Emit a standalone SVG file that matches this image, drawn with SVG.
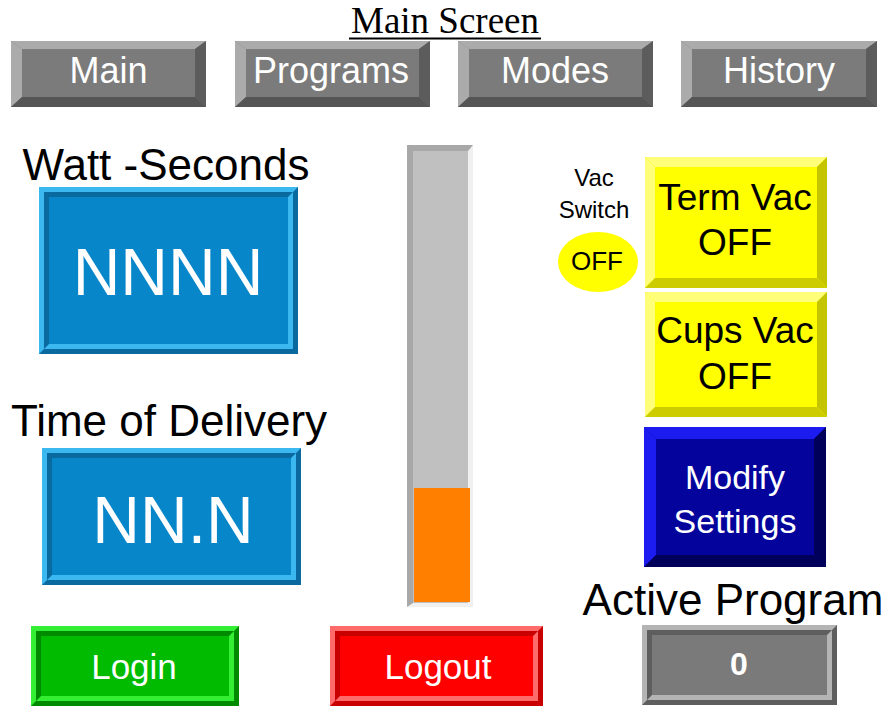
<svg xmlns="http://www.w3.org/2000/svg" width="889" height="706" viewBox="0 0 889 706">
<style>
text{font-family:"Liberation Sans",Arial,sans-serif;text-anchor:middle}
.w{fill:#ffffff}
.k{fill:#000000}
.navf{fill:#7b7b7b}.navl{fill:#ababab}.navd{fill:#5c5c5c}.navb{fill:#555555}
.yf{fill:#ffff00}.yl{fill:#ffff7a}.yd{fill:#c4c400}.yb{fill:#cccc00}
.nf{fill:#04049c}.nl{fill:#1c1cf0}.nd{fill:#00005a}
.bf{fill:#0786c9}.bl{fill:#3cb8f0}.bd{fill:#0a6aa0}
.gf{fill:#00bb00}.gl{fill:#33ee33}.gd{fill:#008a00}
.rf{fill:#ff0000}.rl{fill:#ff6a6a}.rd{fill:#c80000}
.af{fill:#7a7a7a}.al{fill:#b4b4b4}.ad{fill:#5e5e5e}
</style>
<rect width="889" height="706" fill="#ffffff"/>
<g id="title">
<text x="445" y="33" style="font-family:'Liberation Serif','Times New Roman',serif;font-size:37px" class="k">Main Screen</text>
<rect x="349" y="37.5" width="192" height="2" fill="#000"/>
</g>
<g id="nav-main">
<rect x="11" y="41" width="195" height="66" class="navf"/>
<polygon points="11,41 206,41 195,49 22,49" class="navl"/>
<polygon points="11,41 22,49 22,97 11,107" class="navl"/>
<polygon points="206,41 206,107 195,97 195,49" class="navd"/>
<polygon points="11,107 206,107 195,97 22,97" class="navb"/>
<text x="108.5" y="83" class="w" style="font-size:36px">Main</text>
</g>
<g id="nav-programs">
<rect x="235" y="41" width="195" height="66" class="navf"/>
<polygon points="235,41 430,41 419,49 246,49" class="navl"/>
<polygon points="235,41 246,49 246,97 235,107" class="navl"/>
<polygon points="430,41 430,107 419,97 419,49" class="navd"/>
<polygon points="235,107 430,107 419,97 246,97" class="navb"/>
<text x="331" y="83" class="w" style="font-size:36px">Programs</text>
</g>
<g id="nav-modes">
<rect x="458" y="41" width="195" height="66" class="navf"/>
<polygon points="458,41 653,41 642,49 469,49" class="navl"/>
<polygon points="458,41 469,49 469,97 458,107" class="navl"/>
<polygon points="653,41 653,107 642,97 642,49" class="navd"/>
<polygon points="458,107 653,107 642,97 469,97" class="navb"/>
<text x="555" y="83" class="w" style="font-size:36px">Modes</text>
</g>
<g id="nav-history">
<rect x="681" y="41" width="196" height="66" class="navf"/>
<polygon points="681,41 877,41 866,49 692,49" class="navl"/>
<polygon points="681,41 692,49 692,97 681,107" class="navl"/>
<polygon points="877,41 877,107 866,97 866,49" class="navd"/>
<polygon points="681,107 877,107 866,97 692,97" class="navb"/>
<text x="779" y="83" class="w" style="font-size:36px">History</text>
</g>
<g id="watt-seconds">
<text x="166" y="180" class="k" style="font-size:44px">Watt -Seconds</text>
<rect x="39" y="187" width="259" height="167" class="bl"/>
<polygon points="298,187 298,354 39,354 44,349 293,349 293,192" class="bd"/>
<rect x="44" y="192" width="249" height="157" class="bl"/>
<polygon points="44,192 293,192 288,197 49,197 49,344 44,349" class="bd"/>
<rect x="49" y="197" width="239" height="147" class="bf"/>
<text x="168" y="295" class="w" style="font-size:66px">NNNN</text>
</g>
<g id="time-of-delivery">
<text x="169" y="436" class="k" style="font-size:44px">Time of Delivery</text>
<rect x="42" y="448" width="259" height="137" class="bl"/>
<polygon points="301,448 301,585 42,585 47,580 296,580 296,453" class="bd"/>
<rect x="47" y="453" width="249" height="127" class="bl"/>
<polygon points="47,453 296,453 291,458 52,458 52,575 47,580" class="bd"/>
<rect x="52" y="458" width="239" height="117" class="bf"/>
<text x="173" y="543" class="w" style="font-size:66px">NN.N</text>
</g>
<g id="level-bar">
<rect x="407" y="145" width="66" height="462" fill="#f0f0f0"/>
<polygon points="407,145 473,145 468,151 413,151 413,603 407,607" fill="#a8a8a8"/>
<rect x="413" y="151" width="55" height="452" fill="#c0c0c0"/>
<rect x="414" y="488" width="56" height="114" fill="#ff8000"/>
</g>
<g id="vac-switch">
<text x="594" y="186" class="k" style="font-size:24px">Vac</text>
<text x="594" y="218" class="k" style="font-size:24px">Switch</text>
<ellipse cx="598" cy="262" rx="40" ry="30" fill="#ffff00"/>
<text x="597" y="270" class="k" style="font-size:26px">OFF</text>
</g>
<g id="term-vac">
<rect x="645" y="157" width="182" height="131" class="yf"/>
<polygon points="645,157 827,157 817,167 655,167" class="yl"/>
<polygon points="645,157 655,167 655,278 645,288" class="yl"/>
<polygon points="827,157 827,288 817,278 817,167" class="yd"/>
<polygon points="645,288 827,288 817,278 655,278" class="yb"/>
<text x="735" y="210" class="k" style="font-size:37px">Term Vac</text>
<text x="735" y="255" class="k" style="font-size:37px">OFF</text>
</g>
<g id="cups-vac">
<rect x="645" y="292" width="182" height="125" class="yf"/>
<polygon points="645,292 827,292 817,302 655,302" class="yl"/>
<polygon points="645,292 655,302 655,407 645,417" class="yl"/>
<polygon points="827,292 827,417 817,407 817,302" class="yd"/>
<polygon points="645,417 827,417 817,407 655,407" class="yb"/>
<text x="735" y="343" class="k" style="font-size:37px">Cups Vac</text>
<text x="735" y="389" class="k" style="font-size:37px">OFF</text>
</g>
<g id="modify-settings">
<rect x="644" y="427" width="182" height="140" class="nf"/>
<polygon points="644,427 826,427 814,439 656,439" class="nl"/>
<polygon points="644,427 656,439 656,555 644,567" class="nl"/>
<polygon points="826,427 826,567 814,555 814,439" class="nd"/>
<polygon points="644,567 826,567 814,555 656,555" class="nd"/>
<text x="735" y="489" class="w" style="font-size:34px">Modify</text>
<text x="735" y="533" class="w" style="font-size:34px">Settings</text>
</g>
<g id="login">
<rect x="31" y="626" width="208" height="80" class="gl"/>
<polygon points="239,626 239,706 31,706 36,701 234,701 234,631" class="gd"/>
<rect x="36" y="631" width="198" height="70" class="gl"/>
<polygon points="36,631 234,631 229,636 41,636 41,696 36,701" class="gd"/>
<rect x="41" y="636" width="188" height="60" class="gf"/>
<text x="134" y="679" class="w" style="font-size:35px">Login</text>
</g>
<g id="logout">
<rect x="330" y="626" width="213" height="80" class="rl"/>
<polygon points="543,626 543,706 330,706 335,701 538,701 538,631" class="rd"/>
<rect x="335" y="631" width="203" height="70" class="rl"/>
<polygon points="335,631 538,631 533,636 340,636 340,696 335,701" class="rd"/>
<rect x="340" y="636" width="193" height="60" class="rf"/>
<text x="438" y="679" class="w" style="font-size:35px">Logout</text>
</g>
<g id="active-program">
<text x="733" y="615" class="k" style="font-size:44px">Active Program</text>
<rect x="642" y="625" width="195" height="80" class="al"/>
<polygon points="837,625 837,705 642,705 647,700 832,700 832,630" class="ad"/>
<rect x="647" y="630" width="185" height="70" class="al"/>
<polygon points="647,630 832,630 827,635 652,635 652,695 647,700" class="ad"/>
<rect x="652" y="635" width="175" height="60" class="af"/>
<text x="739" y="675" class="w" style="font-size:32px;font-weight:bold">0</text>
</g>
</svg>
